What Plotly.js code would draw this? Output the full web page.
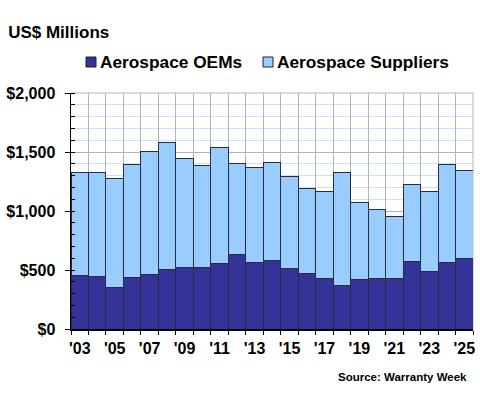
<!DOCTYPE html>
<html>
<head>
<meta charset="utf-8">
<script src="https://cdn.plot.ly/plotly-3.0.1.min.js"></script>
<style>
  html, body { margin: 0; padding: 0; background: #ffffff; }
  #chart { width: 480px; height: 400px; }
</style>
</head>
<body>
<div id="chart"></div>
<script>
// Warranty expenses by year, US$ millions
const years = ["'03", "'04", "'05", "'06", "'07", "'08", "'09", "'10", "'11", "'12", "'13", "'14",
               "'15", "'16", "'17", "'18", "'19", "'20", "'21", "'22", "'23", "'24", "'25"];
const oems = [455, 441, 348, 436, 461, 501, 518, 518, 554, 628, 560, 577,
              512, 467, 430, 368, 421, 430, 430, 574, 487, 563, 600];
const suppliers = [875, 889, 925, 959, 1047, 1083, 930, 871, 982, 775, 812, 837,
                   784, 727, 736, 962, 654, 580, 520, 654, 681, 832, 747];
const seriesNames = ['Aerospace OEMs', 'Aerospace Suppliers'];
const seriesColors = ['#333399', '#99ccff'];
// every other year gets a label
const tickLabels = years.map((y, i) => (i % 2 === 0 ? y : ''));

const W = 480, H = 400;
const M = { l: 71, r: 7, t: 93, b: 71 };
const plotW = W - M.l - M.r, plotH = H - M.t - M.b;
// pixel position -> paper coordinate
const px = (x) => (x - M.l) / plotW;
const py = (y) => 1 + (M.t - y) / plotH;

const font = { family: "'Liberation Sans', Arial, sans-serif", color: '#000000' };
const edge = { color: '#2b2b3a', width: 1 };

const traces = [
  { type: 'bar', name: seriesNames[0], x: years, y: oems,
    marker: { color: seriesColors[0], line: edge } },
  { type: 'bar', name: seriesNames[1], x: years, y: suppliers,
    marker: { color: seriesColors[1], line: edge } }
];

// legend row: swatch left edge and label start, in pixels
const legendSwatchX = [86, 263];
const legendTextX = [98, 275];
const legendY = 62;

const legendShapes = seriesNames.map((n, i) => ({
  type: 'rect', xref: 'paper', yref: 'paper',
  xsizemode: 'pixel', ysizemode: 'pixel',
  xanchor: px(legendSwatchX[i]), yanchor: py(legendY),
  x0: 0, x1: 10, y0: -5, y1: 5,
  fillcolor: seriesColors[i], line: { color: '#222222', width: 1 }
}));
const legendLabels = seriesNames.map((n, i) => ({
  text: n, xref: 'paper', yref: 'paper',
  x: px(legendTextX[i]), xanchor: 'left', y: py(legendY), yanchor: 'middle',
  showarrow: false, font: Object.assign({}, font, { size: 17.3, weight: 'bold' })
}));

const layout = {
  width: W, height: H,
  margin: M,
  paper_bgcolor: '#ffffff', plot_bgcolor: '#ffffff',
  barmode: 'stack', bargap: 0,
  font: font,
  showlegend: false,
  title: {
    text: 'US$ Millions', x: 0.017, xref: 'container', xanchor: 'left',
    y: 0.92, yref: 'container', yanchor: 'middle',
    font: Object.assign({}, font, { size: 17, weight: 'bold' })
  },
  xaxis: {
    type: 'category', tickson: 'boundaries',
    tickvals: years, ticktext: tickLabels, tickangle: 0,
    ticks: 'outside', ticklen: 4, tickcolor: '#000000',
    showgrid: true, gridcolor: '#b4b4b4', gridwidth: 1,
    showline: true, linecolor: '#000000', linewidth: 1.5,
    ticklabelstandoff: 4,
    tickfont: Object.assign({}, font, { size: 16, weight: 'bold' }),
    range: [-0.5, years.length - 0.5]
  },
  yaxis: {
    range: [0, 2000], dtick: 500, tickprefix: '$', tickformat: ',d',
    ticks: 'outside', ticklen: 5, tickcolor: '#000000',
    showgrid: true, gridcolor: '#b4b4b4', gridwidth: 1,
    showline: true, linecolor: '#000000', linewidth: 1.5,
    zeroline: false, ticklabelstandoff: 6,
    tickfont: Object.assign({}, font, { size: 16, weight: 'bold' }),
    minor: {
      dtick: 100, showgrid: true, gridcolor: '#c6e2ff', gridwidth: 1,
      ticks: 'inside', ticklen: 4, tickcolor: '#000000'
    }
  },
  shapes: [
    // right and top frame of the plot area
    { type: 'line', xref: 'paper', yref: 'paper', x0: 1, x1: 1, y0: 0, y1: 1,
      line: { color: '#b4b4b4', width: 1 }, layer: 'below' },
    { type: 'line', xref: 'paper', yref: 'paper', x0: 0, x1: 1, y0: 1, y1: 1,
      line: { color: '#b4b4b4', width: 1 }, layer: 'below' }
  ].concat(legendShapes),
  annotations: legendLabels.concat([
    {
      text: 'Source: Warranty Week', xref: 'paper', yref: 'paper',
      x: px(469), xanchor: 'right', y: py(377), yanchor: 'middle', showarrow: false,
      font: Object.assign({}, font, { size: 11.5, weight: 'bold' })
    }
  ])
};

Plotly.newPlot('chart', traces, layout, { displayModeBar: false, staticPlot: true });
</script>
</body>
</html>
